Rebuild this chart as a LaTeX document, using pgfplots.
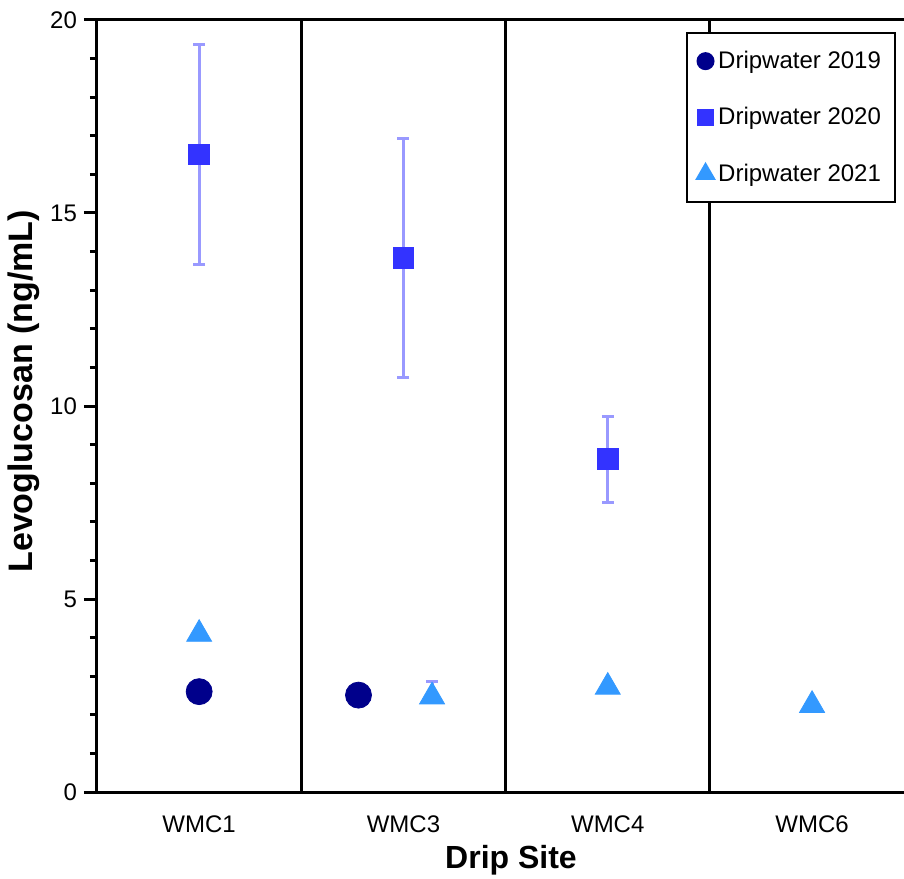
\documentclass[border=0pt]{standalone}
\usepackage{pgfplots}
\pgfplotsset{compat=1.18}
\usepackage{fontspec}
\setmainfont{Liberation Sans}
\definecolor{c19}{RGB}{0,0,139}
\definecolor{c20}{RGB}{51,51,255}
\definecolor{c21}{RGB}{51,153,255}
\definecolor{cerr}{RGB}{153,153,255}

\begin{document}
\begin{tikzpicture}
\begin{axis}[
    scale only axis, width=403.5pt, height=386pt,
    at={(0,0)}, anchor=south west,
    xmin=0.5, xmax=4.45, ymin=0, ymax=20,
    axis y line*=left,
    axis line style={line width=1.5pt, black},
    xtick={1,2,3,4}, xticklabels={WMC1,WMC3,WMC4,WMC6},
    x tick style={draw=none},
    xticklabel style={yshift=-2pt},
    extra x ticks={1.5,2.5,3.5}, extra x tick labels={},
    extra x tick style={grid=major, major grid style={black, line width=1.5pt}, tick style={draw=none}},
    ytick={0,5,10,15,20}, minor y tick num=4,
    tick align=outside,
    y tick style={line width=1.5pt, black},
    major tick length=6.5pt, minor tick length=3.5pt,
    tick label style={font=\fontsize{12}{14}\selectfont},
    /pgf/number format/assume math mode=true,
    xlabel={\bfseries Drip Site},
    ylabel={\bfseries Levoglucosan (ng/mL)},
    xlabel style={font=\fontsize{16}{18}\selectfont, at={(axis description cs:0.513,-0.089)}, anchor=center},
    ylabel style={font=\fontsize{17}{19}\selectfont, at={(axis description cs:-0.0905,0.519)}, anchor=center},
    legend style={at={(0.99,0.9845)}, anchor=north east, draw=black, line width=1pt,
        font=\fontsize{12}{14}\selectfont, row sep=14pt, inner xsep=5pt, inner ysep=7pt,
        cells={anchor=west}},
    legend image code/.code={\draw[#1] plot coordinates {(0.15cm,0cm)};},
]
\addplot[only marks, mark=*, mark size=6.5pt, color=c19,
    legend image post style={mark size=4pt}]
    coordinates {(1,2.60) (1.78,2.51)};
\addlegendentry{Dripwater 2019}
\addplot[only marks, mark=square*, mark size=5.2pt, color=c20,
    legend image post style={mark size=3.6pt},
    error bars/.cd, y dir=both, y explicit,
    error bar style={cerr, line width=1.5pt},
    error mark options={cerr, rotate=90, mark size=3pt, line width=1.5pt}]
    coordinates {(1,16.52) +- (0,2.85) (2,13.83) +- (0,3.1) (3,8.62) +- (0,1.12)};
\addlegendentry{Dripwater 2020}
\addplot[only marks, mark=triangle*, mark size=7.2pt, color=c21,
    legend image post style={mark size=5pt},
    error bars/.cd, y dir=plus, y explicit,
    error bar style={cerr, line width=1.5pt},
    error mark options={cerr, rotate=90, mark size=3pt, line width=1.5pt}]
    coordinates {(1,4.09) +- (0,0) (2.14,2.47) +- (0,0.38) (3,2.72) +- (0,0) (4,2.25) +- (0,0)};
\addlegendentry{Dripwater 2021}
\end{axis}
\pgfresetboundingbox
\path[use as bounding box] (-48.5pt,-43pt) rectangle (403.5pt,396pt);
\end{tikzpicture}
\end{document}
